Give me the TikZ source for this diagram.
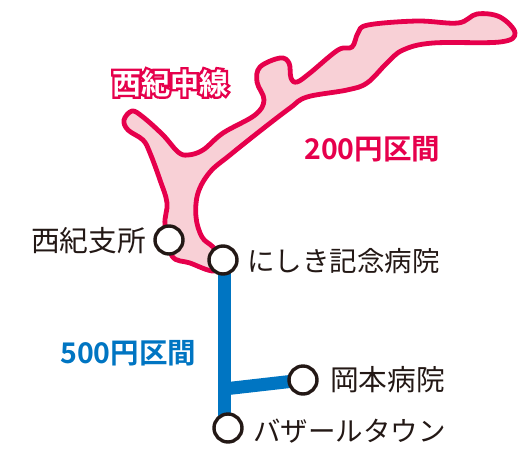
\documentclass[tikz,border=0pt]{standalone}
\usetikzlibrary{backgrounds}
\usepackage{fontspec}
\newfontfamily\cjk{Noto Sans CJK JP}
\newfontfamily\cjkb{Noto Sans CJK JP Bold}
\newfontfamily\cjko[FakeBold=16]{Noto Sans CJK JP Bold}
\definecolor{rim}{HTML}{E6004C}
\definecolor{fillpink}{HTML}{F8D0D6}
\definecolor{lineblue}{HTML}{0075C2}
\definecolor{ink}{HTML}{231815}
\tikzset{
  station/.style={circle,draw=ink,fill=white,line width=3.4pt,minimum size=28pt,inner sep=0pt},
  stname/.style={text=ink,inner sep=0pt,font=\cjk\fontsize{28.7}{28.7}\selectfont},
  stnamenarrow/.style={stname,font=\cjk\fontsize{27.5}{27.5}\selectfont},
  fare/.style={inner sep=0pt,font=\cjkb\fontsize{28.5}{28.5}\selectfont},
  bluel/.style={lineblue,line width=13pt}
}
\begin{document}
\begin{tikzpicture}[x=1pt,y=-1pt]
\useasboundingbox (0,0) rectangle (525,448);
\node[station] (nishiki) at (223,260) {};
\node[station] (shisho) at (169,240) {};
\coordinate (junction) at (224,389);
\node[station] (okamoto) at (303,380) {};
\node[station] (bazar) at (228,428) {};
\begin{scope}[on background layer]
\draw[rim,fill=fillpink,line width=4.8pt,line join=round] plot[smooth cycle,tension=0.6] coordinates {
(124,120)(132,111)(143,117)(163,135)(178,152)(188,155)(203,150)(223,133)(255,115)(264,100)(257,82)(260,67)(280,58)(289,63)(291,78)(297,82)(310,73)(338,50)(352,47)(358,33)(368,25)(417,21)(458,23)(477,14)(500,17)(515,33)(500,42)(433,43)(403,50)(387,63)(367,83)(347,90)(307,97)(290,108)(260,131)(230,155)(210,172)(198,193)(196,217)(202,237)(213,247)(223,260)(214,271)(190,263)(172,256)(165,225)(167,203)(160,180)(150,153)(143,140)(128,130)};
\draw[bluel] (nishiki.center -| junction) -- (junction |- bazar.center);
\draw[bluel] (junction) -- (okamoto.center);
\end{scope}
\node[stname,anchor=east] (l1) at (146,241) {西紀支所};
\node[stnamenarrow,anchor=west] (l2) at (247,261) {にしき記念病院};
\node[stname,anchor=west] (l3) at (330,380) {岡本病院};
\node[stnamenarrow,anchor=west] (l4) at (253,431) {バザールタウン};
\node[fare,text=rim,anchor=west] (f1) at (304,149) {200円区間};
\node[fare,text=lineblue,anchor=west] (f2) at (60,353) {500円区間};
\node[inner sep=0pt,anchor=center] (title) at (170,83) {\fontsize{29}{29}\selectfont\rlap{\cjko\textcolor{rim}{西紀中線}}\cjkb\textcolor{white}{西紀中線}};
\end{tikzpicture}
\end{document}
